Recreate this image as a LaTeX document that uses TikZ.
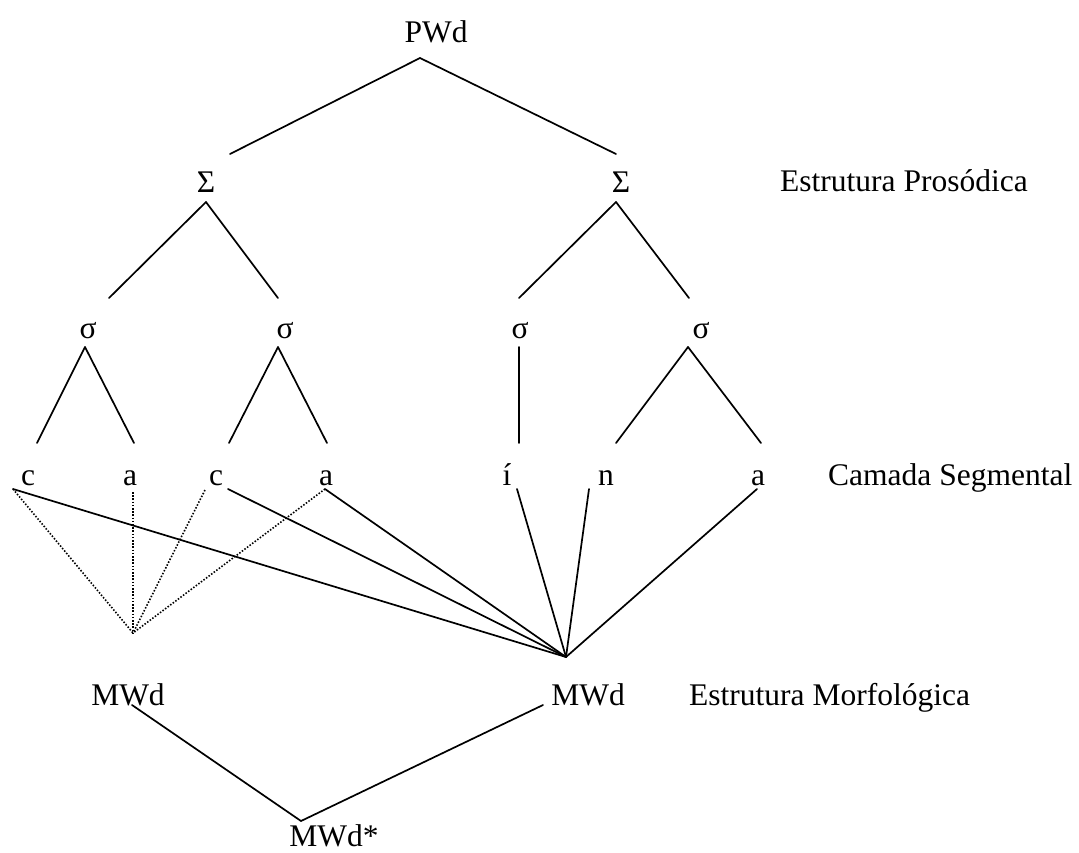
\documentclass[tikz,border=0pt]{standalone}
\usepackage{fontspec}
\setmainfont{Liberation Serif}
\usetikzlibrary{calc}
\begin{document}
\begin{tikzpicture}[x=1pt,y=-1pt,
  lbl/.style={inner sep=0pt, anchor=base, font=\fontsize{31.5}{38}\selectfont},
  tier/.style={lbl, anchor=base west},
  edge/.style={line width=1.7pt, line cap=round},
  dots/.style={line width=1.6pt, dash pattern=on 1.5pt off 1.7pt}]
\useasboundingbox (0,0) rectangle (1079,852);

% prosodic tree
\node[lbl] (pwd) at (436,42) {PWd};
\node[lbl] (F1) at (206,192) {Σ};
\node[lbl] (F2) at (621,192) {Σ};
\node[lbl] (s1) at (88,338) {σ};
\node[lbl] (s2) at (285,338) {σ};
\node[lbl] (s3) at (520,338) {σ};
\node[lbl] (s4) at (701,338) {σ};

% segments
\node[lbl] (c1) at (28,485) {c};
\node[lbl] (a1) at (130,485) {a};
\node[lbl] (c2) at (216,485) {c};
\node[lbl] (a2) at (326,485) {a};
\node[lbl] (ii) at (507,485) {í};
\node[lbl] (n)  at (606,485) {n};
\node[lbl] (a3) at (758,485) {a};

% morphological words
\node[lbl] (mw1) at (128,705) {MWd};
\node[lbl] (mw2) at (588,705) {MWd};
\node[lbl] (mws) at (334,846) {MWd*};

% tier labels
\node[tier] (tp) at (780,191) {Estrutura Prosódica};
\node[tier] (ts) at (828,485) {Camada Segmental};
\node[tier] (tm) at (689,705) {Estrutura Morfológica};

% hubs where the association lines meet
\coordinate (dh) at (133,633);
\coordinate (sh) at (566,657);
\coordinate (ch) at (301,821);

% PWd -> feet
\draw[edge] ($(pwd.base)+(-16,16)$) -- ($(F1.base)+(24,-38)$);
\draw[edge] ($(pwd.base)+(-16,16)$) -- ($(F2.base)+(-5,-38)$);
% feet -> syllables
\draw[edge] ($(F1.base)+(0,10)$) -- ($(s1.base)+(21,-40)$);
\draw[edge] ($(F1.base)+(0,10)$) -- ($(s2.base)+(-7,-40)$);
\draw[edge] ($(F2.base)+(-5,10)$) -- ($(s3.base)+(-1,-40)$);
\draw[edge] ($(F2.base)+(-5,10)$) -- ($(s4.base)+(-12,-40)$);
% syllables -> segments
\draw[edge] ($(s1.base)+(-3,9)$) -- ($(c1.base)+(9,-42)$);
\draw[edge] ($(s1.base)+(-3,9)$) -- ($(a1.base)+(4,-42)$);
\draw[edge] ($(s2.base)+(-7,9)$) -- ($(c2.base)+(13,-42)$);
\draw[edge] ($(s2.base)+(-7,9)$) -- ($(a2.base)+(1,-42)$);
\draw[edge] ($(s3.base)+(-1,9)$) -- ($(ii.base)+(12,-42)$);
\draw[edge] ($(s4.base)+(-13,9)$) -- ($(n.base)+(10,-42)$);
\draw[edge] ($(s4.base)+(-13,9)$) -- ($(a3.base)+(3,-42)$);

% dotted associations
\draw[dots] ($(c1.base)+(-15,4)$) -- (dh);
\draw[dots] ($(a1.base)+(3,7)$) -- (dh);
\draw[dots] ($(c2.base)+(-11,5)$) -- (dh);
\draw[dots] ($(a2.base)+(-1,4)$) -- (dh);

% solid associations
\draw[edge] ($(c1.base)+(-15,4)$) -- (sh);
\draw[edge] ($(c2.base)+(12,4)$) -- (sh);
\draw[edge] ($(a2.base)+(-1,4)$) -- (sh);
\draw[edge] ($(ii.base)+(10,4)$) -- (sh);
\draw[edge] ($(n.base)+(-17,4)$) -- (sh);
\draw[edge] ($(a3.base)+(-1,4)$) -- (sh);

% compound
\draw[edge] ($(mw1.base)+(4,0)$) -- (ch);
\draw[edge] ($(mw2.base)+(-45,0)$) -- (ch);
\end{tikzpicture}
\end{document}
